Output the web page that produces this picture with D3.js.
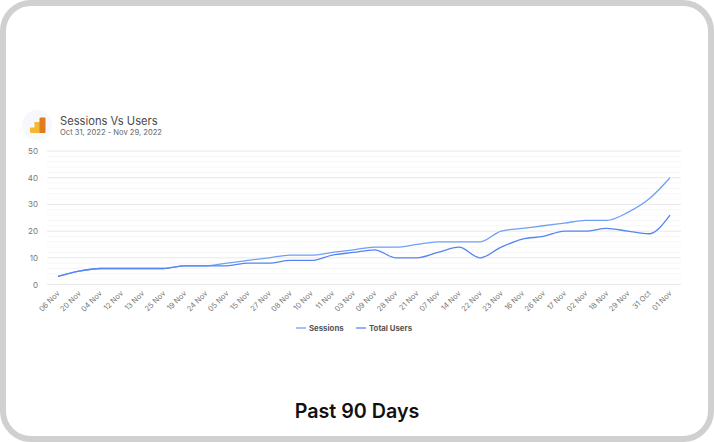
<!DOCTYPE html>
<html>
<head>
<meta charset="utf-8">
<script src="https://cdn.jsdelivr.net/npm/d3@7"></script>
<style>
html, body { margin: 0; padding: 0; background: #fff; }
svg { display: block; font-family: Inter, "Open Sans", sans-serif; }
</style>
</head>
<body>
<div id="chart"></div>
<script>
var width = 714,
    height = 442;

var days = ["06 Nov", "20 Nov", "04 Nov", "12 Nov", "13 Nov", "25 Nov", "19 Nov", "24 Nov", "05 Nov", "15 Nov",
            "27 Nov", "08 Nov", "10 Nov", "11 Nov", "03 Nov", "09 Nov", "28 Nov", "21 Nov", "07 Nov", "14 Nov",
            "22 Nov", "23 Nov", "16 Nov", "26 Nov", "17 Nov", "02 Nov", "18 Nov", "29 Nov", "31 Oct", "01 Nov"];
var sessions = [3, 5, 6, 6, 6, 6, 7, 7, 8, 9, 10, 11, 11, 12, 13, 14, 14, 15, 16, 16, 16, 20, 21, 22, 23, 24, 24, 27, 32, 40];
var totalUsers = [3, 5, 6, 6, 6, 6, 7, 7, 7, 8, 8, 9, 9, 11, 12, 13, 10, 10, 12, 14, 10, 14, 17, 18, 20, 20, 21, 20, 19, 26];
var yTicks = [0, 10, 20, 30, 40, 50];
var minorTicks = d3.range(0, 51, 2);

var svg = d3.select("#chart").append("svg")
    .attr("width", width)
    .attr("height", height);

// card frame
svg.append("rect")
    .attr("x", 3).attr("y", 3)
    .attr("width", width - 6).attr("height", height - 6)
    .attr("rx", 28)
    .attr("fill", "#fff")
    .attr("stroke", "#d0d0d0")
    .attr("stroke-width", 6);

// header with the analytics logo
var logo = svg.append("g").attr("transform", "translate(37,125)");
logo.append("circle").attr("r", 15).attr("fill", "#f6f8fb");
logo.append("rect").attr("x", -7).attr("y", 2.5).attr("width", 6).attr("height", 5.5).attr("rx", 1).attr("fill", "#f4b92f");
logo.append("rect").attr("x", -2.5).attr("y", -3).attr("width", 6).attr("height", 11).attr("fill", "#f4b92f");
logo.append("rect").attr("x", 2.5).attr("y", -7.5).attr("width", 6).attr("height", 15.5).attr("rx", 1).attr("fill", "#e07b1f");

svg.append("text").attr("x", 60).attr("y", 125)
    .attr("font-size", 11.2).attr("fill", "#4a4a4a")
    .text("Sessions Vs Users");
svg.append("text").attr("x", 60).attr("y", 135)
    .attr("font-size", 7.6).attr("fill", "#666")
    .text("Oct 31, 2022 - Nov 29, 2022");

var x = d3.scalePoint().domain(days).range([58, 670]);
var y = d3.scaleLinear().domain([0, 50]).range([284.5, 151]);

// gridlines
svg.append("g").selectAll("line")
    .data(minorTicks)
    .enter().append("line")
    .attr("x1", 47).attr("x2", 681)
    .attr("y1", function(d) { return y(d); })
    .attr("y2", function(d) { return y(d); })
    .attr("stroke", function(d) { return d % 10 == 0 ? "#e8e8e8" : "#f7f7f7"; })
    .attr("stroke-width", 1);

// y axis
var yAxis = svg.append("g")
    .attr("transform", "translate(38,0)")
    .call(d3.axisLeft(y).tickValues(yTicks).tickSize(0).tickPadding(0));
yAxis.select(".domain").remove();
yAxis.selectAll("text")
    .attr("font-family", "Inter, sans-serif")
    .attr("font-size", 8)
    .attr("fill", "#777");

// x axis, labels slanted
var xAxis = svg.append("g")
    .attr("transform", "translate(0,292)")
    .call(d3.axisBottom(x).tickSize(0).tickPadding(0));
xAxis.select(".domain").remove();
xAxis.selectAll("text")
    .attr("font-family", "Inter, sans-serif")
    .attr("font-size", 7.5)
    .attr("fill", "#777")
    .attr("text-anchor", "end")
    .attr("dy", "0.35em")
    .attr("transform", "rotate(-45)");

var line = d3.line()
    .x(function(d, i) { return x(days[i]); })
    .y(function(d) { return y(d); })
    .curve(d3.curveMonotoneX);

svg.append("path")
    .attr("d", line(sessions))
    .attr("fill", "none")
    .attr("stroke", "#6fa0f5")
    .attr("stroke-width", 1.3);
svg.append("path")
    .attr("d", line(totalUsers))
    .attr("fill", "none")
    .attr("stroke", "#5585f0")
    .attr("stroke-width", 1.3);

// legend
var legend = [
    { name: "Sessions", color: "#6fa0f5", x: 296 },
    { name: "Total Users", color: "#5585f0", x: 356 }
];
var lg = svg.append("g").selectAll("g")
    .data(legend)
    .enter().append("g")
    .attr("transform", function(d) { return "translate(" + d.x + ",328)"; });
lg.append("line")
    .attr("x1", 0).attr("x2", 10)
    .attr("stroke", function(d) { return d.color; })
    .attr("stroke-width", 1.3);
lg.append("text")
    .attr("x", 13).attr("y", 3)
    .attr("font-size", 7.8)
    .attr("font-weight", 700)
    .attr("fill", "#555")
    .text(function(d) { return d.name; });

svg.append("text")
    .attr("x", 357).attr("y", 418)
    .attr("text-anchor", "middle")
    .attr("font-size", 19.7)
    .attr("font-weight", 600)
    .attr("fill", "#111")
    .text("Past 90 Days");
</script>
</body>
</html>
